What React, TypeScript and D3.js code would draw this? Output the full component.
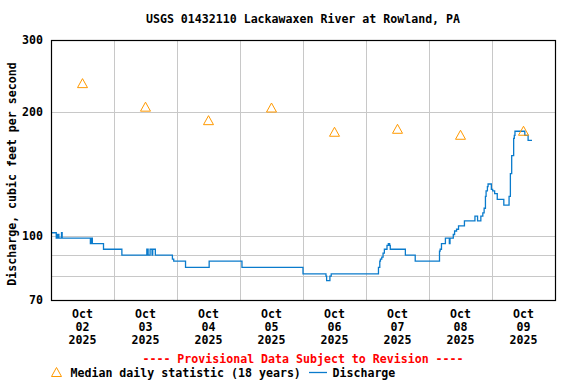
import React from "react";
import * as d3 from "d3";

const title = "USGS 01432110 Lackawaxen River at Rowland, PA";
const yLabel = "Discharge, cubic feet per second";
const provisional = "---- Provisional Data Subject to Revision ----";
const legendMedian = "Median daily statistic (18 years)";
const legendDischarge = "Discharge";

const yTicks = [70, 100, 200, 300];
const yGrid = [80, 90, 100, 200];

const dayLabels = ["02", "03", "04", "05", "06", "07", "08", "09"];

const medianDays = ["2025-10-02", "2025-10-03", "2025-10-04", "2025-10-05", "2025-10-06", "2025-10-07", "2025-10-08", "2025-10-09"];
const medianValues = [235, 206, 191, 205, 179, 182, 176, 180];

const dischargeTimes = [
  "10-02 00:00", "10-02 02:00", "10-02 02:30", "10-02 03:00", "10-02 04:00", "10-02 04:15",
  "10-02 15:00", "10-02 15:15", "10-02 15:45", "10-02 20:00",
  "10-03 03:00", "10-03 12:30", "10-03 13:00", "10-03 13:45", "10-03 14:30", "10-03 14:45", "10-03 15:45",
  "10-03 22:15", "10-03 22:45",
  "10-04 03:15", "10-04 12:15",
  "10-05 00:45",
  "10-06 00:00", "10-06 08:45", "10-06 09:00", "10-06 10:15", "10-06 10:45",
  "10-07 04:45", "10-07 05:15", "10-07 05:30", "10-07 06:00", "10-07 06:30", "10-07 07:00", "10-07 08:00",
  "10-07 08:30", "10-07 09:00", "10-07 09:15", "10-07 15:00", "10-07 18:45",
  "10-08 04:00", "10-08 04:15", "10-08 04:45", "10-08 06:15", "10-08 07:45", "10-08 08:00", "10-08 09:15",
  "10-08 09:45", "10-08 10:30", "10-08 11:15", "10-08 13:30", "10-08 17:30", "10-08 18:30", "10-08 19:45",
  "10-08 20:30", "10-08 21:00", "10-08 21:30", "10-08 21:45", "10-08 22:15", "10-08 22:30", "10-08 23:45",
  "10-09 00:15", "10-09 01:00", "10-09 02:00", "10-09 04:30", "10-09 06:30", "10-09 07:00", "10-09 07:30",
  "10-09 08:15", "10-09 08:30", "10-09 08:45", "10-09 12:30", "10-09 13:45", "10-09 15:15",
];
const dischargeCfs = [
  102, 99, 101, 99, 102, 99,
  96, 99, 96, 93,
  90, 93, 90, 93, 90, 93, 90,
  88, 87,
  84, 87,
  84,
  81, 80, 78, 80, 81,
  84, 87, 88, 89, 91, 93, 95,
  96, 95, 93, 90, 87,
  92, 93, 96, 99, 96, 99, 101,
  103, 104, 106, 109, 112, 109, 112,
  114, 117, 125, 129, 132, 134, 130,
  129, 127, 123, 119, 125, 142, 157,
  173, 176, 180, 176, 171, 171,
];

const W = 576;
const H = 384;
const left = 51;
const right = 555;
const top = 40;
const bottom = 300;
const FONT = "'DejaVu Sans Mono', monospace";
const FS = 11.6;
const BLUE = "#0a7bcc";
const ORANGE = "#ff9900";

function parseT(s: string): Date {
  const [md, hm] = s.split(" ");
  const [mo, da] = md.split("-").map(Number);
  const [h, m] = hm.split(":").map(Number);
  return new Date(2025, mo - 1, da, h, m);
}

export default function App() {
  const x = d3.scaleTime().domain([new Date(2025, 9, 2), new Date(2025, 9, 10)]).range([left, right]);
  const y = d3.scaleLog().domain([70, 300]).range([bottom, top]);

  const pts: [Date, number][] = dischargeTimes.map((t, i) => [parseT(t), dischargeCfs[i]]);
  const line = d3
    .line<[Date, number]>()
    .x((d) => x(d[0]))
    .y((d) => y(d[1]))
    .curve(d3.curveStepAfter);

  const midnights = d3.timeDay.range(new Date(2025, 9, 3), new Date(2025, 9, 10));
  const noons = medianDays.map((d) => {
    const [yy, mm, dd] = d.split("-").map(Number);
    return new Date(yy, mm - 1, dd, 12);
  });

  const tri = (cx: number, cy: number) => `M${cx},${cy - 5}L${cx + 5},${cy + 4}L${cx - 5},${cy + 4}Z`;
  const cxPlot = (left + right) / 2;

  return (
    <svg width={W} height={H} style={{ position: "absolute", left: 0, top: 0 }} fontFamily={FONT} fontWeight="bold" fontSize={FS}>
      <rect x={0} y={0} width={W} height={H} fill="#fff" />
      <text x={cxPlot} y={19} dy="0.35em" textAnchor="middle">{title}</text>
      {yGrid.map((v) => (
        <line key={"g" + v} x1={left} x2={right} y1={Math.round(y(v)) + 0.5} y2={Math.round(y(v)) + 0.5} stroke="#c8c8c8" strokeWidth={1} />
      ))}
      {midnights.map((d, i) => (
        <line key={"v" + i} x1={Math.round(x(d)) + 0.5} x2={Math.round(x(d)) + 0.5} y1={top} y2={bottom} stroke="#c8c8c8" strokeWidth={1} />
      ))}
      <path d={line(pts) || ""} fill="none" stroke={BLUE} strokeWidth={1.3} />
      {noons.map((d, i) => (
        <path key={"m" + i} d={tri(x(d), y(medianValues[i]))} fill="none" stroke={ORANGE} strokeWidth={1} />
      ))}
      <rect x={left + 0.5} y={top + 0.5} width={right - left} height={bottom - top} fill="none" stroke="#000" strokeWidth={1.2} />
      {yTicks.map((v) => (
        <text key={"t" + v} x={43} y={y(v)} dy="0.35em" textAnchor="end">{v}</text>
      ))}
      <text transform={`translate(11.5,174) rotate(-90)`} dy="0.35em" textAnchor="middle">{yLabel}</text>
      {noons.map((d, i) => (
        <g key={"xl" + i} transform={`translate(${x(d)},0)`} textAnchor="middle">
          <text y={314} dy="0.35em">Oct</text>
          <text y={327} dy="0.35em">{dayLabels[i]}</text>
          <text y={340} dy="0.35em">2025</text>
        </g>
      ))}
      <text x={cxPlot} y={359} dy="0.35em" textAnchor="middle" fill="#ff0000">{provisional}</text>
      <path d={tri(56.5, 372.5)} fill="none" stroke={ORANGE} strokeWidth={1} />
      <text x={70.5} y={373} dy="0.35em">{legendMedian}</text>
      <line x1={309} x2={327} y1={372.5} y2={372.5} stroke={BLUE} strokeWidth={1.3} />
      <text x={332.5} y={373} dy="0.35em">{legendDischarge}</text>
    </svg>
  );
}
